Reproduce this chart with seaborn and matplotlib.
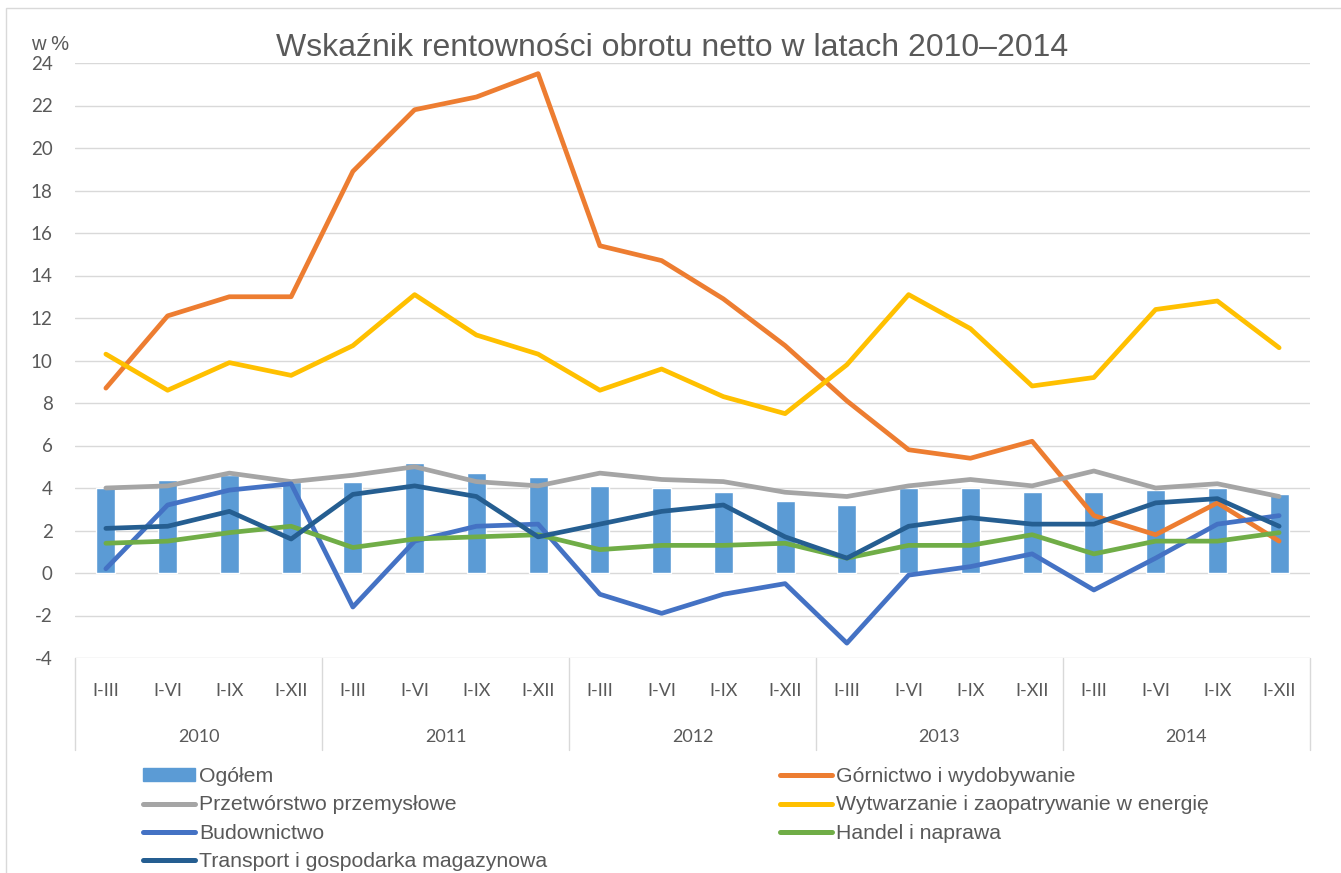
import numpy as np
import pandas as pd
import matplotlib
matplotlib.use('Agg')
import matplotlib.pyplot as plt
import matplotlib.transforms as mtransforms
from matplotlib.lines import Line2D
from matplotlib.patches import Patch, Rectangle
import seaborn as sns

# data (w %)
years = ['2010', '2011', '2012', '2013', '2014']
periods = ['I-III', 'I-VI', 'I-IX', 'I-XII']

ogolem = [4.0, 4.4, 4.6, 4.3, 4.3, 5.2, 4.7, 4.5, 4.1, 4.0,
          3.8, 3.4, 3.2, 4.0, 4.0, 3.8, 3.8, 3.9, 4.0, 3.7]
gornictwo = [8.7, 12.1, 13.0, 13.0, 18.9, 21.8, 22.4, 23.5, 15.4, 14.7,
             12.9, 10.7, 8.1, 5.8, 5.4, 6.2, 2.7, 1.8, 3.3, 1.5]
przetworstwo = [4.0, 4.1, 4.7, 4.3, 4.6, 5.0, 4.3, 4.1, 4.7, 4.4,
                4.3, 3.8, 3.6, 4.1, 4.4, 4.1, 4.8, 4.0, 4.2, 3.6]
wytwarzanie = [10.3, 8.6, 9.9, 9.3, 10.7, 13.1, 11.2, 10.3, 8.6, 9.6,
               8.3, 7.5, 9.8, 13.1, 11.5, 8.8, 9.2, 12.4, 12.8, 10.6]
budownictwo = [0.2, 3.2, 3.9, 4.2, -1.6, 1.5, 2.2, 2.3, -1.0, -1.9,
               -1.0, -0.5, -3.3, -0.1, 0.3, 0.9, -0.8, 0.7, 2.3, 2.7]
handel = [1.4, 1.5, 1.9, 2.2, 1.2, 1.6, 1.7, 1.8, 1.1, 1.3,
          1.3, 1.4, 0.7, 1.3, 1.3, 1.8, 0.9, 1.5, 1.5, 1.9]
transport = [2.1, 2.2, 2.9, 1.6, 3.7, 4.1, 3.6, 1.7, 2.3, 2.9,
             3.2, 1.7, 0.7, 2.2, 2.6, 2.3, 2.3, 3.3, 3.5, 2.2]

series = {
    'Górnictwo i wydobywanie': gornictwo,
    'Przetwórstwo przemysłowe': przetworstwo,
    'Wytwarzanie i zaopatrywanie w energię': wytwarzanie,
    'Budownictwo': budownictwo,
    'Handel i naprawa': handel,
    'Transport i gospodarka magazynowa': transport,
}
colors = {
    'Górnictwo i wydobywanie': '#ED7D31',
    'Przetwórstwo przemysłowe': '#A5A5A5',
    'Wytwarzanie i zaopatrywanie w energię': '#FFC000',
    'Budownictwo': '#4472C4',
    'Handel i naprawa': '#70AD47',
    'Transport i gospodarka magazynowa': '#255E91',
}
bar_color = '#5B9BD5'
txt = '#595959'
grid_c = '#D9D9D9'

x = np.arange(len(years) * len(periods))
df_bar = pd.DataFrame({'x': x, 'val': ogolem})
df_lines = pd.concat([pd.DataFrame({'x': x, 'val': v, 'series': k}) for k, v in series.items()])

sns.set_style('white')
plt.rcParams['font.family'] = ['Liberation Sans', 'DejaVu Sans']

fig = plt.figure(figsize=(13.41, 8.73), dpi=100)
ax = fig.add_axes([75 / 1341, 1 - 658 / 873, (1310 - 75) / 1341, (658 - 63) / 873])

sns.barplot(data=df_bar, x='x', y='val', color=bar_color, width=0.31,
            saturation=1, ax=ax, zorder=2)
sns.lineplot(data=df_lines, x='x', y='val', hue='series', hue_order=list(series),
             palette=colors, lw=3.4, legend=False, sort=False, ax=ax,
             solid_joinstyle='round', solid_capstyle='round', zorder=3)

ax.set_xlim(-0.5, len(x) - 0.5)
ax.set_ylim(-4, 24)
ax.set_yticks(range(-4, 25, 2))
ax.set_yticklabels([str(v) for v in range(-4, 25, 2)], family='Lato', fontsize=13.5, color=txt)
ax.set_xticks(x)
ax.set_xticklabels(periods * len(years), family='Lato', fontsize=13, color=txt)
ax.tick_params(axis='y', length=0, pad=16)
ax.tick_params(axis='x', length=0, pad=18)
ax.set_xlabel('')
ax.set_ylabel('')
ax.yaxis.grid(True, color=grid_c, lw=1, zorder=0)
ax.set_axisbelow(True)
for s in ax.spines.values():
    s.set_visible(False)

# multi-level category axis: year labels and separators
trans = mtransforms.blended_transform_factory(ax.transData, ax.transAxes)
for i, yr in enumerate(years):
    ax.text(i * 4 + 1.5, -0.133, yr, transform=trans, ha='center', va='center',
            family='Lato', fontsize=13, color=txt)
for b in np.arange(len(years) + 1) * 4 - 0.5:
    ax.plot([b, b], [0, -0.155], transform=trans, color=grid_c, lw=1, clip_on=False)

fig.text(672 / 1341, 1 - 48 / 873, 'Wskaźnik rentowności obrotu netto w latach 2010–2014',
         ha='center', va='center', fontsize=23, color=txt)
fig.text(31 / 1341, 1 - 45 / 873, 'w %', ha='left', va='center',
         fontsize=14.5, color=txt)

# legend in two blocks, as in the original
def handle(name):
    return Line2D([], [], color=colors[name], lw=3.6, solid_capstyle='round')

left_names = ['Przetwórstwo przemysłowe', 'Budownictwo', 'Transport i gospodarka magazynowa']
right_names = ['Górnictwo i wydobywanie', 'Wytwarzanie i zaopatrywanie w energię', 'Handel i naprawa']
leg_kw = dict(loc='upper left', frameon=False, fontsize=15.3, handlelength=2.45,
              handleheight=0.5, handletextpad=0.2, labelspacing=0.44, borderpad=0,
              borderaxespad=0, labelcolor=txt)
fig.legend([Patch(color=bar_color)] + [handle(n) for n in left_names],
           ['Ogółem'] + left_names, bbox_to_anchor=(143 / 1341, 1 - 767 / 873), **leg_kw)
fig.legend([handle(n) for n in right_names], right_names,
           bbox_to_anchor=(780 / 1341, 1 - 767 / 873), **leg_kw)

fig.add_artist(Rectangle((6 / 1341, -0.02), 1.0, 1 - 8 / 873 + 0.02,
                         transform=fig.transFigure, fill=False, edgecolor=grid_c, lw=1))

fig.savefig('out.png', dpi=100)
